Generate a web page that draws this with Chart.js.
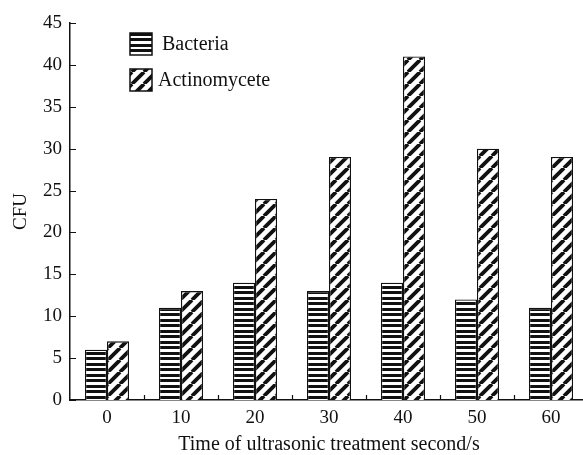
<!DOCTYPE html>
<html lang="en">
<head>
  <meta charset="UTF-8">
  <title>CFU vs ultrasonic treatment time</title>
  <script src="https://cdn.jsdelivr.net/npm/chart.js"></script>
  <style>
    html, body {
      margin: 0;
      padding: 0;
      overflow: hidden;
      background: #fff;
    }
    .chart-container {
      position: relative;
      width: 600px;
      height: 455px;
    }
  </style>
</head>
<body>
  <div class="chart-container">
    <canvas id="cfuChart"></canvas>
  </div>
  <script>
    // Data
    const categories = ['0', '10', '20', '30', '40', '50', '60'];
    const bacteria = [6, 11, 14, 13, 14, 12, 11];
    const actinomycete = [7, 13, 24, 29, 41, 30, 29];
    const seriesNames = ['Bacteria', 'Actinomycete'];

    const fontFamily = '"Liberation Serif", "Times New Roman", serif';
    const ink = '#111';

    // horizontal stripes, ~5.5px period, kept on whole pixels
    function makeStripes() {
      const c = document.createElement('canvas');
      c.width = 4; c.height = 11;
      const g = c.getContext('2d');
      g.fillStyle = '#fff';
      g.fillRect(0, 0, 4, 11);
      g.fillStyle = ink;
      g.fillRect(0, 0, 4, 3);
      g.fillRect(0, 5, 4, 3);
      return g.createPattern(c, 'repeat');
    }

    // "/" diagonal hatch
    function makeHatch() {
      const s = 12;
      const c = document.createElement('canvas');
      c.width = s; c.height = s;
      const g = c.getContext('2d');
      g.fillStyle = '#fff';
      g.fillRect(0, 0, s, s);
      g.strokeStyle = ink;
      g.lineWidth = 3.8;
      g.beginPath();
      for (let k = -1; k <= 1; k++) {
        g.moveTo(k * s, s);
        g.lineTo(k * s + s, 0);
      }
      g.stroke();
      return g.createPattern(c, 'repeat');
    }

    const fills = [makeStripes(), makeHatch()];

    // inward tick marks on both axes
    const tickMarks = {
      id: 'tickMarks',
      afterDatasetsDraw(chart) {
        const { ctx, scales: { x, y } } = chart;
        ctx.save();
        ctx.strokeStyle = ink;
        ctx.lineWidth = 1.2;
        ctx.beginPath();
        y.ticks.forEach((t) => {
          const py = Math.round(y.getPixelForValue(t.value)) + 0.5;
          ctx.moveTo(x.left, py);
          ctx.lineTo(x.left + 6, py);
        });
        for (let i = 0; i < categories.length - 1; i++) {
          const px = Math.round((x.getPixelForValue(i) + x.getPixelForValue(i + 1)) / 2) + 0.5;
          ctx.moveTo(px, y.bottom);
          ctx.lineTo(px, y.bottom - 5);
        }
        ctx.stroke();
        ctx.restore();
      }
    };

    // legend drawn inside the plot, top left
    const innerLegend = {
      id: 'innerLegend',
      afterDraw(chart) {
        const { ctx } = chart;
        const rows = [
          { box: [130, 33, 22, 22], tx: 162, ty: 45 },
          { box: [130, 69, 22, 22], tx: 158, ty: 81 }
        ];
        ctx.save();
        ctx.font = '20px ' + fontFamily;
        ctx.textBaseline = 'middle';
        ctx.textAlign = 'left';
        rows.forEach((r, i) => {
          const [bx, by, bw, bh] = r.box;
          ctx.fillStyle = fills[i];
          ctx.fillRect(bx, by, bw, bh);
          ctx.strokeStyle = ink;
          ctx.lineWidth = 1.5;
          ctx.strokeRect(bx, by, bw, bh);
          ctx.fillStyle = ink;
          ctx.fillText(chart.data.datasets[i].label, r.tx, r.ty);
        });
        ctx.restore();
      }
    };

    new Chart(document.getElementById('cfuChart'), {
      type: 'bar',
      data: {
        labels: categories,
        datasets: [
          {
            label: seriesNames[0],
            data: bacteria,
            backgroundColor: fills[0],
            borderColor: ink,
            borderWidth: 1.3,
            barPercentage: 1,
            categoryPercentage: 0.595
          },
          {
            label: seriesNames[1],
            data: actinomycete,
            backgroundColor: fills[1],
            borderColor: ink,
            borderWidth: 1.3,
            barPercentage: 1,
            categoryPercentage: 0.595
          }
        ]
      },
      options: {
        responsive: true,
        maintainAspectRatio: false,
        animation: false,
        events: [],
        layout: { padding: { top: 23, right: 12, bottom: 0, left: 0 } },
        plugins: {
          legend: { display: false },
          tooltip: { enabled: false }
        },
        scales: {
          x: {
            grid: { display: false, drawTicks: false },
            border: { display: true, color: ink, width: 1.5 },
            ticks: {
              color: ink,
              padding: 7,
              font: { family: fontFamily, size: 19 }
            },
            title: {
              display: true,
              text: 'Time of ultrasonic treatment second/s',
              color: ink,
              padding: { top: 0, bottom: 0 },
              font: { family: fontFamily, size: 20, lineHeight: 1 }
            },
            afterFit: (scale) => { scale.height = 55; }
          },
          y: {
            min: 0,
            max: 45,
            grid: { display: false, drawTicks: false },
            border: { display: true, color: ink, width: 1.5 },
            ticks: {
              stepSize: 5,
              color: ink,
              padding: 8,
              font: { family: fontFamily, size: 19 }
            },
            title: {
              display: true,
              text: 'CFU',
              color: ink,
              padding: { top: 12, bottom: 0 },
              font: { family: fontFamily, size: 19, lineHeight: 1 }
            },
            afterFit: (scale) => { scale.width = 70; }
          }
        }
      },
      plugins: [tickMarks, innerLegend]
    });
  </script>
</body>
</html>
